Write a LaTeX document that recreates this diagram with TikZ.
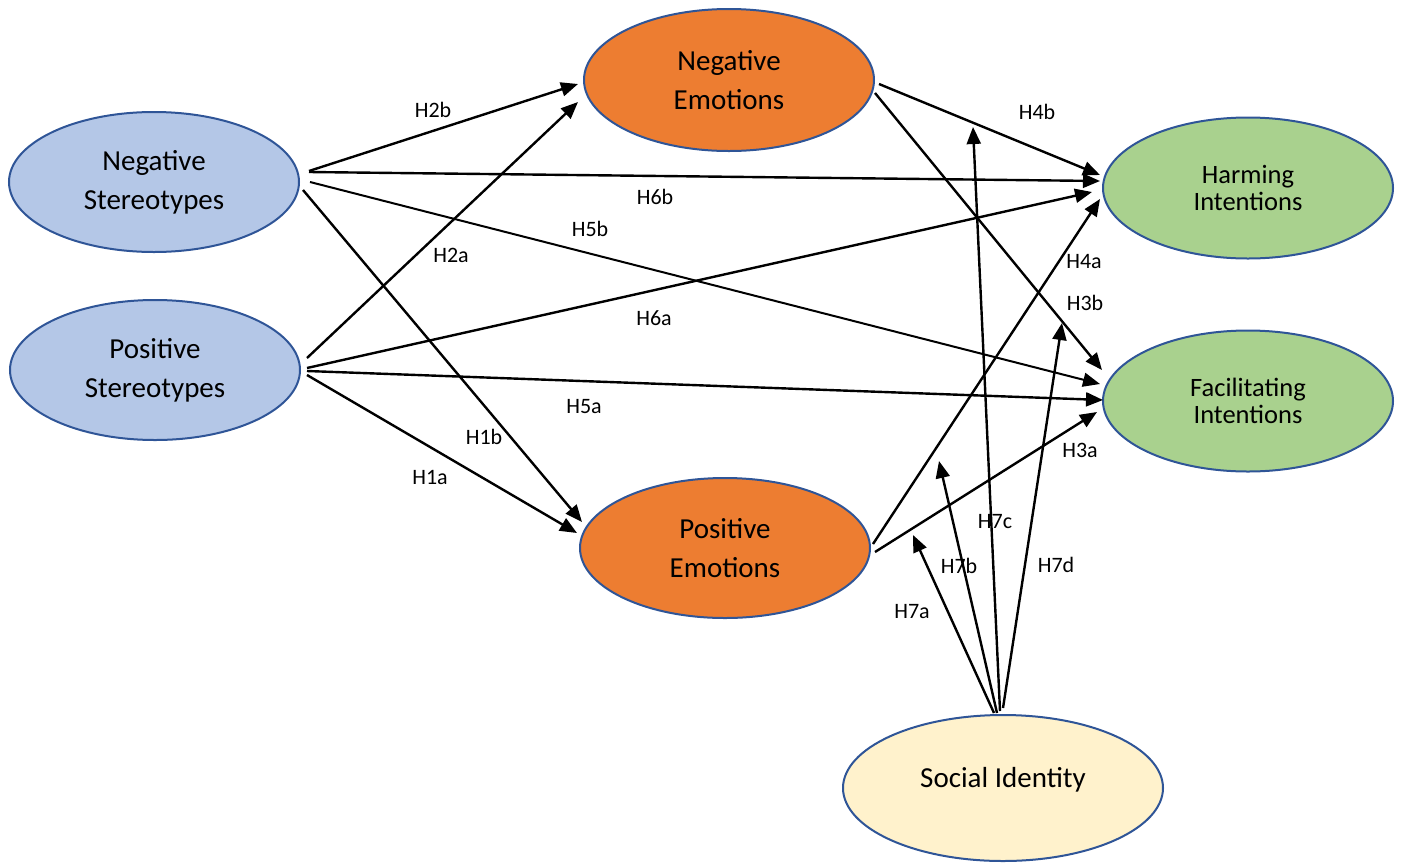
\documentclass[tikz,border=0pt]{standalone}
\usepackage{fontspec}
\setmainfont{Carlito}
\usetikzlibrary{shapes.geometric,arrows.meta,calc}
\definecolor{bluefill}{HTML}{B4C7E7}
\definecolor{orangefill}{HTML}{ED7D31}
\definecolor{greenfill}{HTML}{A9D18E}
\definecolor{yellowfill}{HTML}{FFF2CC}
\definecolor{edgeblue}{HTML}{2F5597}
\begin{document}
\begin{tikzpicture}[x=1pt,y=-1pt,
  ell/.style={ellipse, draw=edgeblue, line width=2pt, inner sep=0pt, outer sep=0pt,
    minimum width=290pt, minimum height=140pt, align=center,
    font=\fontsize{29}{39}\selectfont},
  intent/.style={ell, fill=greenfill, minimum height=141pt, font=\fontsize{26.5}{27}\selectfont},
  arr/.style={-{Triangle[length=17pt,width=14pt]}, line width=2.4pt},
  lab/.style={font=\fontsize{22}{26}\selectfont, inner sep=0pt}]
\useasboundingbox (0,0) rectangle (1403,863);

% nodes
\node[ell, fill=bluefill] (ns) at (154,182) {Negative\\Stereotypes};
\node[ell, fill=bluefill] (ps) at (155,370) {Positive\\Stereotypes};
\node[ell, fill=orangefill, minimum height=142pt] (ne) at (729,80) {Negative\\Emotions};
\node[ell, fill=orangefill] (pe) at (725,548) {Positive\\Emotions};
\node[intent] (hi) at (1248,188) {Harming\\Intentions};
\node[intent] (fi) at (1248,401) {Facilitating\\Intentions};
\node[ell, fill=yellowfill, minimum width=320pt, minimum height=146pt] (si) at (1003,788) {\raisebox{1pt}[0pt][0pt]{Social Identity}};

% free ends of moderation arrows
\coordinate (t7a) at (913,535);
\coordinate (t7b) at (939,461);
\coordinate (t7c) at (973,127);
\coordinate (t7d) at (1062,323);

% connectors
\draw[arr] ($(ns)+(155,-11)$) -- ($(ne)+(-151,4)$);   % H2b
\draw[arr] ($(ns)+(155,-10)$) -- ($(hi)+(-148,-7)$);  % H6b
\draw[arr, line width=2pt] ($(ns)+(156,0)$) -- ($(fi)+(-148,-17)$); % H5b
\draw[arr] ($(ns)+(149,8)$) -- ($(pe)+(-143,-26)$);   % H1b

\draw[arr] ($(ps)+(152,-12)$) -- ($(ne)+(-151,22)$);  % H2a
\draw[arr] ($(ps)+(152,-2)$) -- ($(hi)+(-156,4)$);    % H6a
\draw[arr] ($(ps)+(152,1)$) -- ($(fi)+(-145,-1)$);    % H5a
\draw[arr] ($(ps)+(152,5)$) -- ($(pe)+(-148,-15)$);   % H1a

\draw[arr] ($(ne)+(150,4)$) -- ($(hi)+(-148,-13)$);   % H4b
\draw[arr] ($(ne)+(146,13)$) -- ($(fi)+(-146,-31)$);  % H3b

\draw[arr] ($(pe)+(148,-4)$) -- ($(hi)+(-148,11)$);   % H4a
\draw[arr] ($(pe)+(150,4)$) -- ($(fi)+(-151,11)$);    % H3a

\draw[arr] ($(si)+(-9,-75)$) -- (t7a);   % H7a
\draw[arr] ($(si)+(-6,-75)$) -- (t7b);   % H7b
\draw[arr] ($(si)+(-3,-77)$) -- (t7c);   % H7c
\draw[arr] ($(si)+(0,-80)$) -- (t7d);    % H7d

% labels
\node[lab] (l2b) at (433,110) {H2b};
\node[lab] (l6b) at (655,197) {H6b};
\node[lab] (l5b) at (590,229) {H5b};
\node[lab] (l2a) at (451,255) {H2a};
\node[lab] (l6a) at (654,318) {H6a};
\node[lab] (l5a) at (584,407) {H5a};
\node[lab] (l1b) at (484,437) {H1b};
\node[lab] (l1a) at (430,477) {H1a};
\node[lab] (l4b) at (1037,112) {H4b};
\node[lab] (l4a) at (1084,262) {H4a};
\node[lab] (l3b) at (1085,303) {H3b};
\node[lab] (l3a) at (1080,450) {H3a};
\node[lab] (l7c) at (995,522) {H7c};
\node[lab] (l7b) at (959,566) {H7b};
\node[lab] (l7d) at (1056,565) {H7d};
\node[lab] (l7a) at (912,612) {H7a};
\end{tikzpicture}
\end{document}
